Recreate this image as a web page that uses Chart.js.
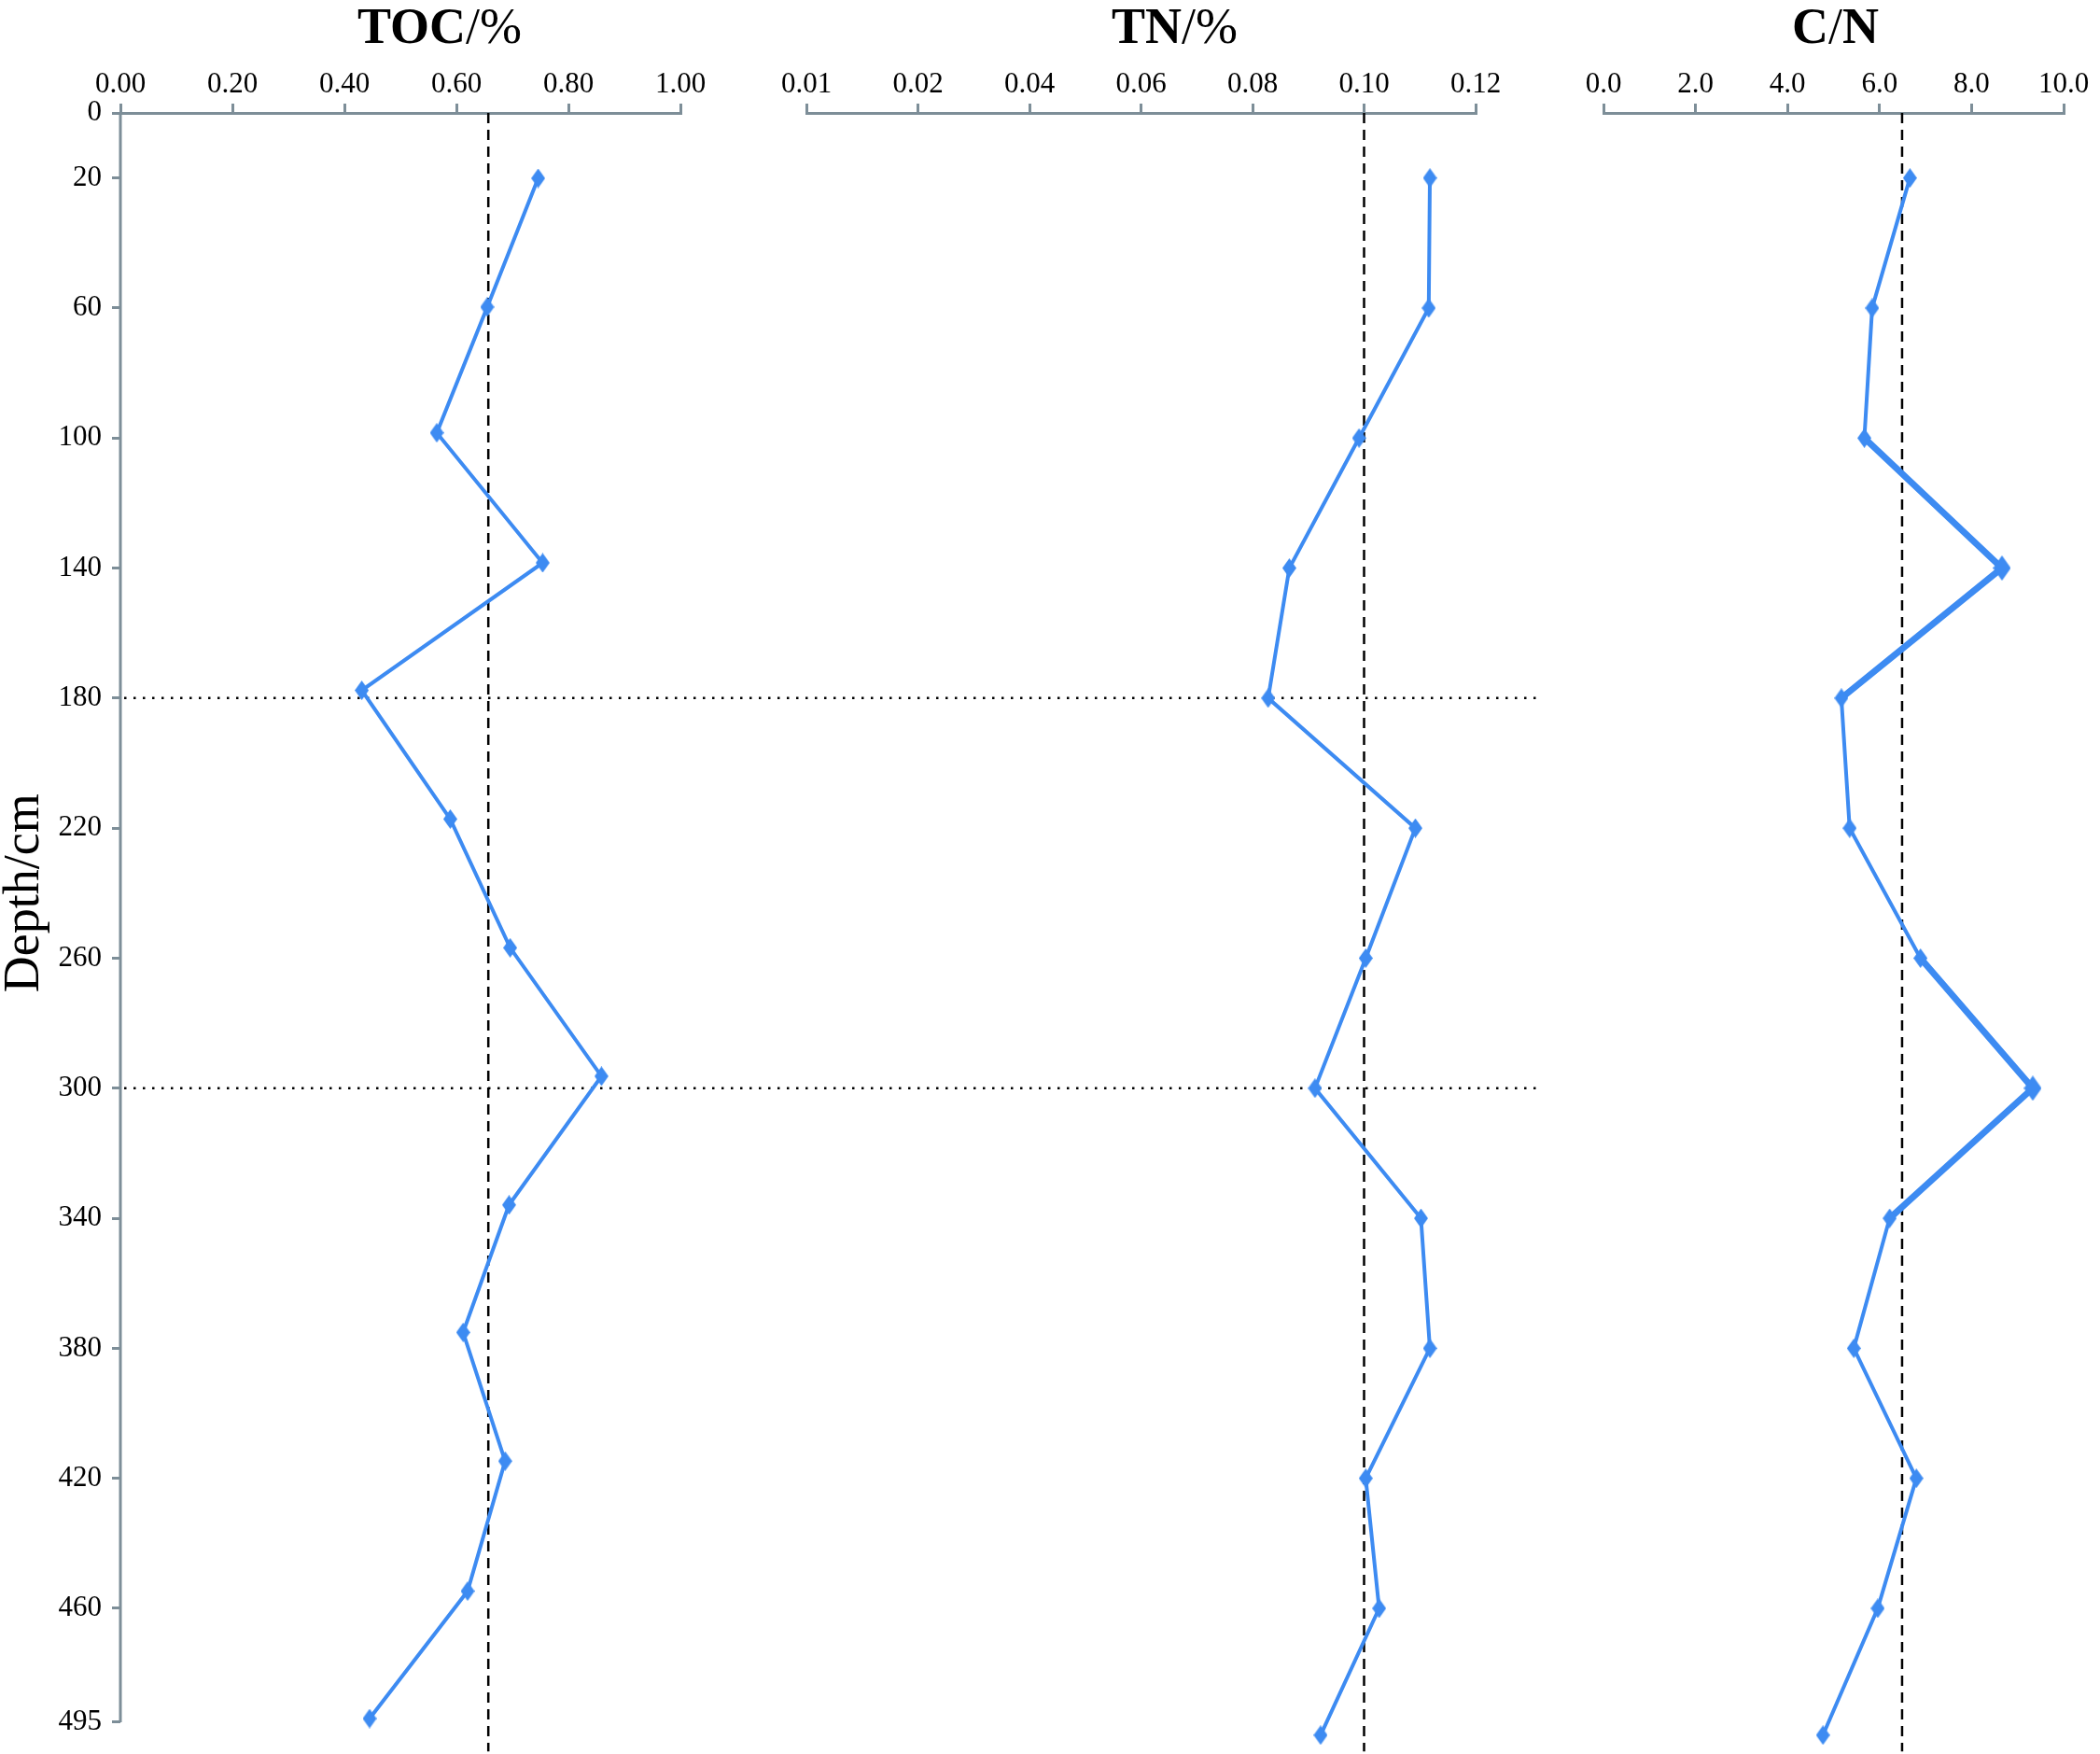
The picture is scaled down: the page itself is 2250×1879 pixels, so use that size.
<!DOCTYPE html>
<html>
<head>
<meta charset="utf-8">
<script src="https://cdn.jsdelivr.net/npm/chart.js@4"></script>
<style>
  html, body { margin: 0; background: #fff; }
  canvas { display: block; }
</style>
</head>
<body>
<canvas id="profile" width="2250" height="1879" style="width:2250px;height:1879px"></canvas>
<script>
// depth ticks (cm) and the three profiles
const depthTicks = [0, 20, 60, 100, 140, 180, 220, 260, 300, 340, 380, 420, 460, 495];
const tocDepth  = [20.1, 59.7, 98.4, 138.4, 177.6, 217.2, 256.8, 296.3, 335.9, 375.1, 414.7, 454.7, 493.9];
const tocValues = [0.746, 0.655, 0.565, 0.754, 0.431, 0.589, 0.696, 0.859, 0.694, 0.612, 0.687, 0.620, 0.445];
const tnDepth   = [20, 60, 100, 140, 180, 220, 260, 300, 340, 380, 420, 460, 499];
const tnValues  = [0.1118, 0.1116, 0.0991, 0.0866, 0.0828, 0.1092, 0.1003, 0.0912, 0.1102, 0.1118, 0.1003, 0.1027, 0.0922];
const cnDepth   = [20, 60, 100, 140, 180, 220, 260, 300, 340, 380, 420, 460, 499];
const cnValues  = [6.66, 5.84, 5.67, 8.66, 5.17, 5.35, 6.89, 9.33, 6.22, 5.44, 6.80, 5.96, 4.77];
const tnTickLabels = ['0.01', '0.02', '0.04', '0.06', '0.08', '0.10', '0.12'];
const meanValues = [0.657, 0.100, 6.49];   // dashed lines: TOC, TN, C/N
const markDepths = [180, 300];             // dotted lines
const cnBold = [3, 7];                     // emphasised C/N peaks

const blue = '#3d8bf2';
const axisGray = '#7d8e98';
Chart.defaults.font.family = '"Liberation Serif", "Times New Roman", serif';
Chart.defaults.color = '#000';

function diamond(w, h) {
  const c = document.createElement('canvas');
  c.width = w; c.height = h;
  const g = c.getContext('2d');
  g.fillStyle = blue;
  g.beginPath();
  g.moveTo(w / 2, 0); g.lineTo(w, h / 2); g.lineTo(w / 2, h); g.lineTo(0, h / 2);
  g.closePath(); g.fill();
  return c;
}
const smallDiamond = diamond(15, 21);
const bigDiamond = diamond(19, 27);

const panelIds = ['xToc', 'xTn', 'xCn'];
const panelTitles = [
  [['TOC', true], ['/%', false]],
  [['TN', true], ['/%', false]],
  [['C', true], ['/', false], ['N', true]]
];
const titleShift = [42, 36, 2];

function panelAxis(min, max, step, weight, fmt) {
  return {
    type: 'linear', position: 'top', stack: 'panels', stackWeight: weight,
    min: min, max: max,
    afterFit: s => { s.height = 121; },
    border: { color: axisGray, width: 3 },
    grid: { drawOnChartArea: false, drawTicks: true, tickLength: 10, color: axisGray, lineWidth: 3 },
    ticks: { stepSize: step, callback: fmt, font: { size: 31 }, color: '#000', padding: 2, maxRotation: 0, autoSkip: false }
  };
}

const overlay = {
  id: 'overlay',
  beforeDatasetsDraw(chart) {
    const { ctx, chartArea, scales } = chart;
    const y = scales.y;
    ctx.save();
    // depth axis line, ending at the last depth tick
    ctx.strokeStyle = axisGray;
    ctx.lineWidth = 3;
    ctx.beginPath();
    ctx.moveTo(chartArea.left, chartArea.top);
    ctx.lineTo(chartArea.left, y.getPixelForValue(depthTicks[depthTicks.length - 1]));
    ctx.stroke();
    ctx.strokeStyle = '#000';
    ctx.lineWidth = 2.5;
    ctx.setLineDash([11, 7]);
    panelIds.forEach((id, i) => {
      const x = scales[id].getPixelForValue(meanValues[i]);
      ctx.beginPath();
      ctx.moveTo(x, chartArea.top);
      ctx.lineTo(x, y.getPixelForValue(504));
      ctx.stroke();
    });
    ctx.setLineDash([2.5, 7.5]);
    markDepths.forEach(d => {
      const py = y.getPixelForValue(d);
      ctx.beginPath();
      ctx.moveTo(chartArea.left + 4, py);
      ctx.lineTo(scales.xTn.getPixelForValue(0.131), py);
      ctx.stroke();
    });
    ctx.restore();
  },
  afterDraw(chart) {
    const { ctx, scales } = chart;
    ctx.save();
    ctx.fillStyle = '#000';
    ctx.textBaseline = 'alphabetic';
    const fam = Chart.defaults.font.family;
    panelIds.forEach((id, i) => {
      const s = scales[id];
      const parts = panelTitles[i];
      let total = 0;
      parts.forEach(p => { ctx.font = (p[1] ? 'bold ' : '') + '54px ' + fam; total += ctx.measureText(p[0]).width; });
      let x = (s.left + s.right) / 2 + titleShift[i] - total / 2;
      parts.forEach(p => {
        ctx.font = (p[1] ? 'bold ' : '') + '54px ' + fam;
        ctx.fillText(p[0], x, 46);
        x += ctx.measureText(p[0]).width;
      });
    });
    // vertical axis title
    const y = scales.y;
    ctx.translate(27, y.getPixelForValue(240));
    ctx.rotate(-Math.PI / 2);
    ctx.font = '54px ' + fam;
    ctx.textAlign = 'center';
    ctx.textBaseline = 'middle';
    ctx.fillText('Depth/cm', 0, 0);
    ctx.restore();
  }
};

const pairs = (vals, depths) => vals.map((v, i) => ({ x: v, y: depths[i] }));

new Chart(document.getElementById('profile'), {
  type: 'line',
  data: {
    datasets: [
      { label: 'TOC', data: pairs(tocValues, tocDepth), xAxisID: 'xToc', yAxisID: 'y',
        borderColor: blue, borderWidth: 4, pointStyle: smallDiamond, clip: false },
      { label: 'TN', data: pairs(tnValues, tnDepth), xAxisID: 'xTn', yAxisID: 'y',
        borderColor: blue, borderWidth: 4, pointStyle: smallDiamond, clip: false },
      { label: 'C/N', data: pairs(cnValues, cnDepth), xAxisID: 'xCn', yAxisID: 'y',
        borderColor: blue, borderWidth: 4, clip: false,
        pointStyle: c => cnBold.includes(c.dataIndex) ? bigDiamond : smallDiamond,
        segment: { borderWidth: c => (cnBold.includes(c.p0DataIndex) || cnBold.includes(c.p1DataIndex)) ? 7 : 4 } }
    ]
  },
  options: {
    responsive: false,
    animation: false,
    layout: { padding: { top: 0, left: 0, right: 39, bottom: 0 } },
    plugins: { legend: { display: false }, tooltip: { enabled: false } },
    elements: { line: { tension: 0, fill: false } },
    scales: {
      // top boxes are laid out last-defined first, so the panels are listed right to left
      xCn: panelAxis(0, 10, 2, 493, v => v.toFixed(1)),
      gap2: { type: 'linear', position: 'top', stack: 'panels', stackWeight: 137, display: false },
      xTn: panelAxis(0, 0.12, 0.02, 717, (v, i) => tnTickLabels[i]),
      gap1: { type: 'linear', position: 'top', stack: 'panels', stackWeight: 135, display: false },
      xToc: panelAxis(0, 1, 0.2, 600, v => v.toFixed(2)),
      y: {
        type: 'linear', position: 'left', reverse: true, min: 0, max: 502.5,
        afterBuildTicks: s => { s.ticks = depthTicks.map(v => ({ value: v })); },
        afterFit: s => { s.width = 129; s.paddingTop = 0; s.paddingBottom = 0; },
        border: { display: false },
        grid: { drawOnChartArea: false, drawTicks: true, tickLength: 9, color: axisGray, lineWidth: 3 },
        ticks: { font: { size: 31 }, color: '#000', padding: 11 }
      }
    }
  },
  plugins: [overlay]
});
</script>
</body>
</html>
